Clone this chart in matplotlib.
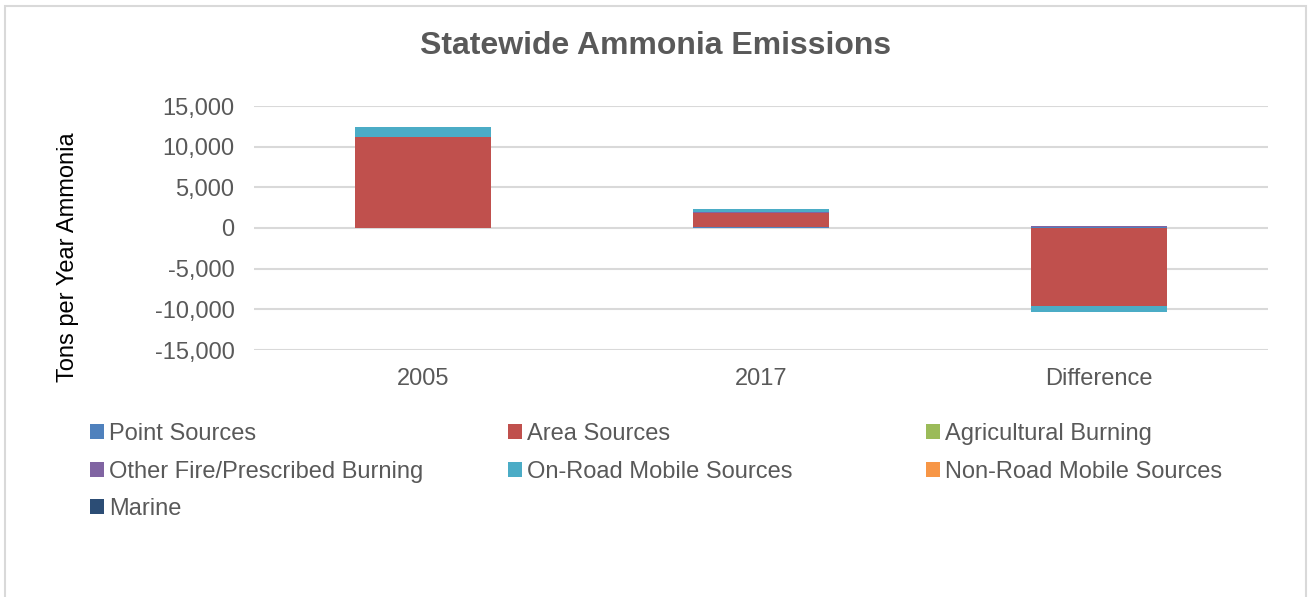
import numpy as np
import matplotlib
matplotlib.use("Agg")
import matplotlib.pyplot as plt
from matplotlib.ticker import FuncFormatter, FixedLocator
from matplotlib.patches import Rectangle

categories = ["2005", "2017", "Difference"]
series_names = ["Point Sources", "Area Sources", "Agricultural Burning",
                "Other Fire/Prescribed Burning", "On-Road Mobile Sources",
                "Non-Road Mobile Sources", "Marine"]
point_sources = [20, 170, 150]
area_sources = [11200, 1650, -9550]
agricultural_burning = [0, 0, 0]
other_fire = [5, 105, 100]
on_road = [1150, 380, -800]
non_road = [20, 20, 0]
marine = [0, 0, 0]
colors = ["#4F81BD", "#C0504D", "#9BBB59", "#8064A2", "#4BACC6", "#F79646", "#2C4D75"]
y_ticks = [-15000, -10000, -5000, 0, 5000, 10000, 15000]

all_series = [point_sources, area_sources, agricultural_burning, other_fire,
              on_road, non_road, marine]

plt.rcParams['font.family'] = ['Liberation Sans', 'DejaVu Sans']
TXT = "#595959"

fig = plt.figure(figsize=(13.13, 5.97), dpi=100)
ax = fig.add_axes([254/1313, 1-350/597, (1268-254)/1313, (350-106)/597])

x = np.arange(len(categories))
pos_bottom = np.zeros(len(categories))
neg_bottom = np.zeros(len(categories))
handles = []
for vals, name, c in zip(all_series, series_names, colors):
    v = np.array(vals, dtype=float)
    bottom = np.where(v >= 0, pos_bottom, neg_bottom)
    b = ax.bar(x, v, width=0.4, bottom=bottom, color=c, label=name, zorder=3)
    handles.append(b)
    pos_bottom = pos_bottom + np.where(v > 0, v, 0)
    neg_bottom = neg_bottom + np.where(v < 0, v, 0)

ax.set_xlim(-0.5, 2.5)
ax.set_ylim(-15000, 15000)
ax.yaxis.set_major_locator(FixedLocator(y_ticks))
ax.yaxis.set_major_formatter(FuncFormatter(lambda v, p: f"{int(v):,}".replace("\u2212", "-")))
ax.set_xticks(x)
ax.set_xticklabels(categories)
for s in ax.spines.values():
    s.set_visible(False)
ax.grid(axis='y', color="#D9D9D9", linewidth=1.5, zorder=0)
ax.tick_params(axis='both', length=0, labelsize=17, labelcolor=TXT)
ax.tick_params(axis='y', pad=14)
ax.tick_params(axis='x', pad=13)

fig.text(656/1313, 1-46/597, "Statewide Ammonia Emissions", ha='center', va='center',
         fontsize=23, fontweight='bold', color=TXT)
fig.text(68/1313, 1-257/597, "Tons per Year Ammonia", rotation=90, ha='center', va='center',
         fontsize=17, color="black")

cols = [[0, 3, 6], [1, 4], [2, 5]]
col_x = [90, 508, 926]
for xs, idx in zip(col_x, cols):
    leg = fig.legend([handles[i] for i in idx], [series_names[i] for i in idx],
                     loc='upper left', bbox_to_anchor=(xs/1313, 1-423/597),
                     frameon=False, fontsize=17, handlelength=0.58, handleheight=0.58,
                     handletextpad=0.22, labelspacing=0.66, borderpad=0, borderaxespad=0)
    for t in leg.get_texts():
        t.set_color(TXT)

fig.patches.append(Rectangle((5/1313, -0.05), (1306-5)/1313, 1.05-6/597,
                             transform=fig.transFigure, fill=False,
                             edgecolor="#D9D9D9", linewidth=1.5))

fig.savefig("out.png", dpi=100)
